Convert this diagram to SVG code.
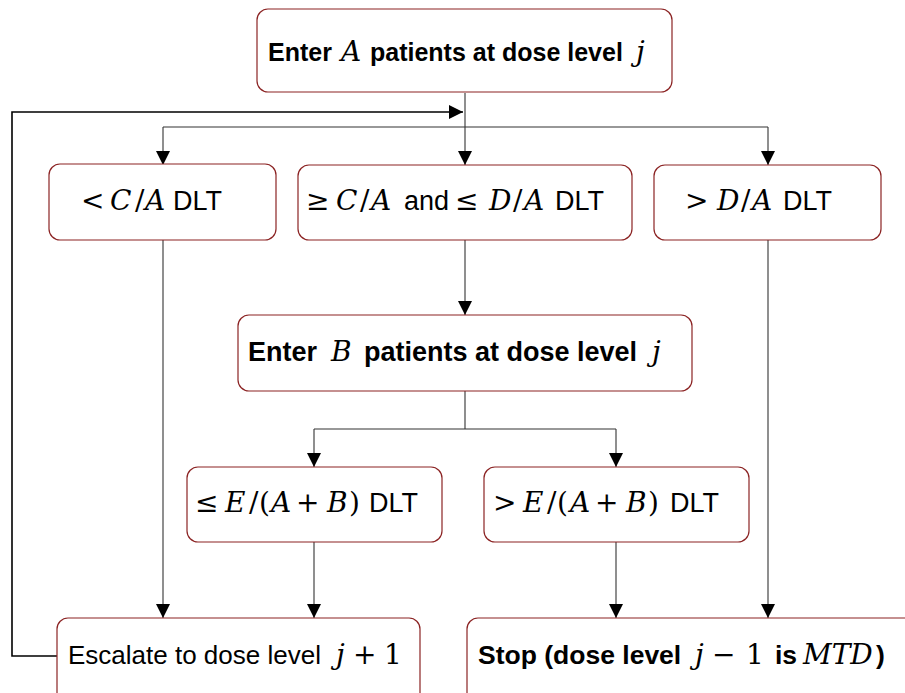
<svg xmlns="http://www.w3.org/2000/svg" width="905" height="693" viewBox="0 0 905 693">
<style>
.box{fill:#fff;stroke:#8b2323;stroke-width:1.2}
.ln{fill:none;stroke:#333;stroke-width:1.1}
.fb{fill:none;stroke:#000;stroke-width:1.6}
.b{font-family:"Liberation Sans",Arial,sans-serif;font-weight:bold;fill:#000}
.r{font-family:"Liberation Sans",Arial,sans-serif;font-size:27px;fill:#000}
.m{font-family:"DejaVu Serif","Liberation Serif",serif;font-style:italic;font-weight:normal;font-size:28px}
.u{font-family:"DejaVu Serif","Liberation Serif",serif;font-style:normal;font-weight:normal;font-size:28px}
</style>
<defs>
<marker id="ah" markerUnits="userSpaceOnUse" markerWidth="14" markerHeight="14" viewBox="0 0 14 14" refX="14" refY="7" orient="auto">
<path d="M0,0 L14,7 L0,14 Z" fill="#000"/>
</marker>
</defs>
<rect width="905" height="693" fill="#fff"/>
<g id="connectors">
<path class="ln" d="M465,93 V165" marker-end="url(#ah)"/>
<path class="ln" d="M163,127 H768"/>
<path class="ln" d="M163,127 V165" marker-end="url(#ah)"/>
<path class="ln" d="M768,127 V165" marker-end="url(#ah)"/>
<path class="fb" d="M57,656 H12 V112 H463" marker-end="url(#ah)"/>
<path class="ln" d="M163,240 V618" marker-end="url(#ah)"/>
<path class="ln" d="M465,240 V315" marker-end="url(#ah)"/>
<path class="ln" d="M768,240 V618" marker-end="url(#ah)"/>
<path class="ln" d="M465,391 V429 M314,429 H616"/>
<path class="ln" d="M314,429 V467" marker-end="url(#ah)"/>
<path class="ln" d="M616,429 V467" marker-end="url(#ah)"/>
<path class="ln" d="M314,542 V618" marker-end="url(#ah)"/>
<path class="ln" d="M616,542 V618" marker-end="url(#ah)"/>
</g>
<g id="enterA">
<rect class="box" x="257" y="9" width="415" height="83" rx="11"/>
<text class="b" y="61" font-size="25"><tspan x="268">Enter</tspan><tspan class="m" x="341">A</tspan><tspan x="370">patients at dose level</tspan><tspan class="m" x="636">j</tspan></text>
</g>
<g id="lessC">
<rect class="box" x="49" y="164" width="227" height="76" rx="11"/>
<text class="r" y="210"><tspan class="u" x="81">&lt;</tspan><tspan class="m" x="110">C</tspan><tspan class="u" x="135">/</tspan><tspan class="m" x="145">A</tspan><tspan x="173">DLT</tspan></text>
</g>
<g id="betweenCD">
<rect class="box" x="298" y="165" width="334" height="75" rx="11"/>
<text class="r" y="210"><tspan class="u" x="306">≥</tspan><tspan class="m" x="336">C</tspan><tspan class="u" x="360">/</tspan><tspan class="m" x="371">A</tspan><tspan x="404">and</tspan><tspan class="u" x="455">≤</tspan><tspan class="m" x="489">D</tspan><tspan class="u" x="513">/</tspan><tspan class="m" x="524">A</tspan><tspan x="555">DLT</tspan></text>
</g>
<g id="moreD">
<rect class="box" x="654" y="165" width="227" height="75" rx="11"/>
<text class="r" y="210"><tspan class="u" x="685">&gt;</tspan><tspan class="m" x="717">D</tspan><tspan class="u" x="741">/</tspan><tspan class="m" x="752">A</tspan><tspan x="783">DLT</tspan></text>
</g>
<g id="enterB">
<rect class="box" x="238" y="315" width="454" height="76" rx="11"/>
<text class="b" y="361" font-size="27"><tspan x="248">Enter</tspan><tspan class="m" x="331" font-size="30">B</tspan><tspan x="364">patients at dose level</tspan><tspan class="m" x="652" font-size="30">j</tspan></text>
</g>
<g id="lessE">
<rect class="box" x="187" y="467" width="255" height="75" rx="11"/>
<text class="r" y="512"><tspan class="u" x="195">≤</tspan><tspan class="m" x="225">E</tspan><tspan class="u" x="249">/</tspan><tspan class="u" x="259">(</tspan><tspan class="m" x="271">A</tspan><tspan class="u" x="296">+</tspan><tspan class="m" x="327">B</tspan><tspan class="u" x="349">)</tspan><tspan x="369">DLT</tspan></text>
</g>
<g id="moreE">
<rect class="box" x="484" y="467" width="265" height="75" rx="11"/>
<text class="r" y="512"><tspan class="u" x="493">&gt;</tspan><tspan class="m" x="523">E</tspan><tspan class="u" x="547">/</tspan><tspan class="u" x="557">(</tspan><tspan class="m" x="570">A</tspan><tspan class="u" x="595">+</tspan><tspan class="m" x="626">B</tspan><tspan class="u" x="648">)</tspan><tspan x="670">DLT</tspan></text>
</g>
<g id="escalate">
<rect class="box" x="57" y="618" width="363" height="100" rx="11"/>
<text class="r" y="664" font-size="26"><tspan x="68" font-size="26">Escalate to dose level</tspan><tspan class="m" x="336">j</tspan><tspan class="u" x="353">+</tspan><tspan class="u" x="384">1</tspan></text>
</g>
<g id="stop">
<rect class="box" x="467" y="618" width="460" height="100" rx="11"/>
<text class="b" y="664" font-size="26.5"><tspan x="478">Stop (dose level</tspan><tspan class="m" x="695">j</tspan><tspan class="u" x="712">−</tspan><tspan class="u" x="746">1</tspan><tspan x="775">is</tspan><tspan class="m" x="803">MTD</tspan><tspan x="876">)</tspan></text>
</g>
</svg>
